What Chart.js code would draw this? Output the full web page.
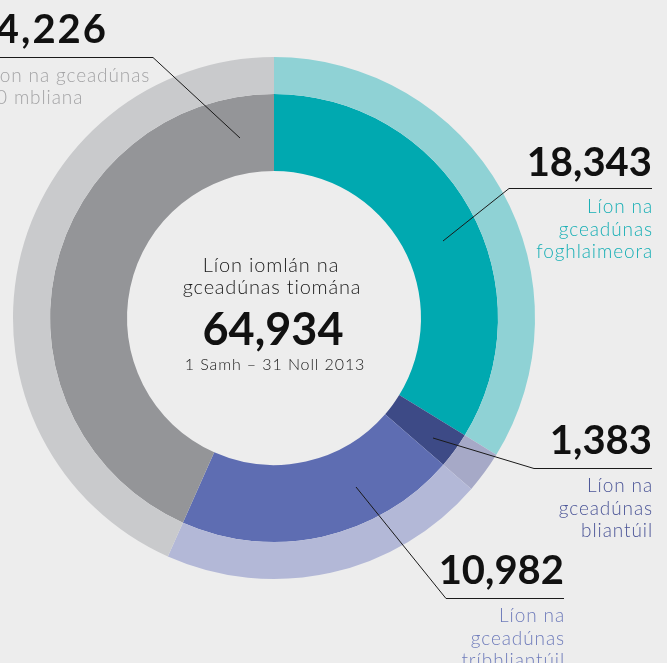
<!DOCTYPE html>
<html>
<head>
<meta charset="utf-8">
<script src="https://cdn.jsdelivr.net/npm/chart.js@4"></script>
<style>
  html, body { margin: 0; padding: 0; background: #ededed; }
  #wrap { position: relative; width: 667px; height: 663px; }
</style>
</head>
<body>
<div id="wrap"><canvas id="licenceChart"></canvas></div>
<script>
// licence types, clockwise from 12 o'clock
const categories = ["foghlaimeora", "bliantúil", "tríbhliantúil", "10 mbliana"];
const licenceCounts = [18343, 1383, 10982, 34226];
// sweep of each slice as drawn in the picture (degrees), not proportional to the counts
const arcDegrees = [121.6, 9.3, 73.1, 156.0];
const darkColours = ["#00a9b0", "#3d4a86", "#5e6db2", "#949598"];
const lightColours = ["#8fd2d5", "#a6a9c7", "#b3b8d7", "#c9cacc"];
const textColours = ["#17afb5", "#4b5597", "#6f7cbb", "#a3a3a5"];

const totalCount = licenceCounts.reduce((a, b) => a + b, 0);
const FONT = "Lato, 'Open Sans', sans-serif";

function fmt(n) {
  return n.toLocaleString("en-US");
}

// callout layout (pixels) for each slice
const callouts = [
  { numX: 652, numY: 176, numSpacing: 0, ruleY: 188, ruleFrom: 509, ruleTo: 652, tip: [443, 241], align: "right", textX: 653, textY: [213, 235.5, 258], lines: ["Líon na", "gceadúnas", "foghlaimeora"] },
  { numX: 652, numY: 454, numSpacing: 0, ruleY: 468, ruleFrom: 534, ruleTo: 652, tip: [433, 438], align: "right", textX: 653, textY: [492, 514.5, 537], lines: ["Líon na", "gceadúnas", "bliantúil"] },
  { numX: 564, numY: 584, numSpacing: 0, ruleY: 598, ruleFrom: 446, ruleTo: 564, tip: [356, 487], align: "right", textX: 565, textY: [622, 644.5, 667], lines: ["Líon na", "gceadúnas", "tríbhliantúil"] },
  { numX: 108, numY: 43, numSpacing: 2, ruleY: 57, ruleFrom: 153, ruleTo: -10, tip: [240, 138], align: "left", textX: -16, textY: [82, 104], lines: ["Líon na gceadúnas", "10 mbliana"] },
];

const labelPlugin = {
  id: "labelPlugin",
  afterDraw(chart) {
    const ctx = chart.ctx;
    const meta = chart.getDatasetMeta(1);
    const cx = meta.data[0].x;
    const cy = meta.data[0].y;
    ctx.save();

    // centre text
    ctx.textAlign = "center";
    ctx.textBaseline = "alphabetic";
    ctx.fillStyle = "#1a1a1a";
    ctx.letterSpacing = "0.8px";
    ctx.font = "300 20px " + FONT;
    ctx.fillText("Líon iomlán na", cx - 3, cy - 46);
    ctx.fillText("gceadúnas tiomána", cx - 2, cy - 24);
    ctx.font = "300 16px " + FONT;
    ctx.letterSpacing = "0.9px";
    ctx.fillText("1 Samh – 31 Noll 2013", cx + 1, cy + 52);
    ctx.letterSpacing = "0px";
    ctx.font = "bold 45px " + FONT;
    ctx.fillStyle = "#111";
    ctx.fillText(fmt(totalCount), cx - 1, cy + 27);

    // callouts
    callouts.forEach((c, i) => {
      ctx.strokeStyle = "#1a1a1a";
      ctx.lineWidth = 1;
      ctx.beginPath();
      ctx.moveTo(c.ruleTo, c.ruleY + 0.5);
      ctx.lineTo(c.ruleFrom, c.ruleY + 0.5);
      ctx.lineTo(c.tip[0], c.tip[1]);
      ctx.stroke();

      ctx.textAlign = "right";
      ctx.fillStyle = "#111";
      ctx.letterSpacing = c.numSpacing + "px";
      ctx.font = "bold 40px " + FONT;
      ctx.fillText(fmt(licenceCounts[i]), c.numX, c.numY);

      ctx.textAlign = c.align;
      ctx.fillStyle = textColours[i];
      ctx.letterSpacing = "0.9px";
      ctx.font = "300 19px " + FONT;
      c.lines.forEach((t, k) => ctx.fillText(t, c.textX, c.textY[k]));
    });

    ctx.restore();
  },
};

const ctx = document.getElementById("licenceChart").getContext("2d");
const myChart = new Chart(ctx, {
  type: "doughnut",
  data: {
    labels: categories,
    datasets: [
      { data: arcDegrees, backgroundColor: lightColours, borderWidth: 0, weight: 37 },
      { data: arcDegrees, backgroundColor: darkColours, borderWidth: 0, weight: 77 },
    ],
  },
  options: {
    responsive: true,
    maintainAspectRatio: false,
    animation: false,
    cutout: 147,
    layout: { padding: { left: 13, top: 57, right: 132, bottom: 84 } },
    plugins: {
      legend: { display: false },
      tooltip: { enabled: false },
    },
  },
  plugins: [labelPlugin],
});
</script>
</body>
</html>
